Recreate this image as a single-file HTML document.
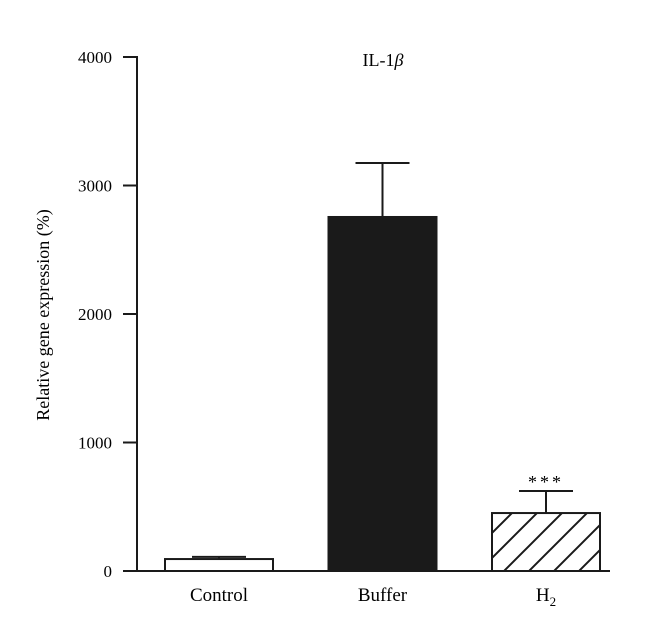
<!DOCTYPE html>
<html><head><meta charset="utf-8"><style>
body{margin:0;background:#fff;}
svg{display:block;font-family:"Liberation Serif",serif;}
</style></head><body>
<svg id="chart" width="660" height="638" viewBox="0 0 660 638">
<defs>
<pattern id="hatch" patternUnits="userSpaceOnUse" width="25" height="25" patternTransform="rotate(0)">
<path d="M-5,30 L30,-5 M-5,5 L5,-5 M20,30 L30,20" stroke="#1a1a1a" stroke-width="2"/>
</pattern>
</defs>
<text x="383" y="66" font-size="18" text-anchor="middle">IL-1<tspan font-style="italic">β</tspan></text>
<text transform="translate(49,315) rotate(-90)" font-size="18" text-anchor="middle">Relative gene expression (%)</text>
<g id="axes"></g>
<g id="bars"></g>
</svg>
<script>
const categories = ["Control", "Buffer", "H2"];
const values = [93, 2755, 451];
const errors = [17, 420, 172];
const yTicks = [0, 1000, 2000, 3000, 4000];
const fills = ["#fff", "#1a1a1a", "url(#hatch)"];
const sig = ["", "", "***"];

const NS = "http://www.w3.org/2000/svg";
const y0 = 571, pxPer = (571 - 57) / 4000, axisX = 137;
const yScale = v => y0 - v * pxPer;
const xLeft = i => 165 + i * 163.5;
const barW = 108;
function mk(tag, attrs, parent) { const e = document.createElementNS(NS, tag); for (const k in attrs) e.setAttribute(k, attrs[k]); parent.appendChild(e); return e; }
const axes = document.getElementById("axes");
const bars = document.getElementById("bars");

const yl = mk("line", {x1: axisX, y1: 56, x2: axisX, y2: y0, stroke: "#1a1a1a", "stroke-width": 2}, axes);


const xl = mk("line", {x1: 123, y1: y0, x2: 610, y2: y0, stroke: "#1a1a1a", "stroke-width": 2}, axes);


yTicks.forEach(t => {
  const tk = mk("line", {x1: 123, y1: yScale(t), x2: axisX, y2: yScale(t), stroke: "#1a1a1a", "stroke-width": 2}, axes);
  
  
  const lb = mk("text", {x: 112, y: yScale(t) + 6, "font-size": 17, "text-anchor": "end"}, axes);
  lb.textContent = t;
  
  
});
categories.forEach((c, i) => {
  const x = xLeft(i), cx = x + barW / 2;
  const top = yScale(values[i]), etop = yScale(values[i] + errors[i]);
  const eb = mk("line", {x1: cx, y1: top, x2: cx, y2: etop, stroke: "#1a1a1a", "stroke-width": 2}, bars);
  
  
  const cap = mk("line", {x1: cx - 27, y1: etop, x2: cx + 27, y2: etop, stroke: "#1a1a1a", "stroke-width": 2}, bars);
  
  
  const r = mk("rect", {x: x, y: top, width: barW, height: y0 - top, fill: fills[i], stroke: "#1a1a1a", "stroke-width": 2}, bars);
  
  
  const lb = mk("text", {x: cx, y: 601, "font-size": 19, "text-anchor": "middle"}, bars);
  if (c === "H2") { lb.innerHTML = 'H<tspan font-size="13" dy="5">2</tspan>'; } else { lb.textContent = c; }
  
  
  if (sig[i]) {
    const s = mk("text", {x: cx, y: etop - 3, "font-size": 18, "text-anchor": "middle", "letter-spacing": "3"}, bars);
    s.textContent = sig[i];
    
    
  }
});
</script>
</body></html>
